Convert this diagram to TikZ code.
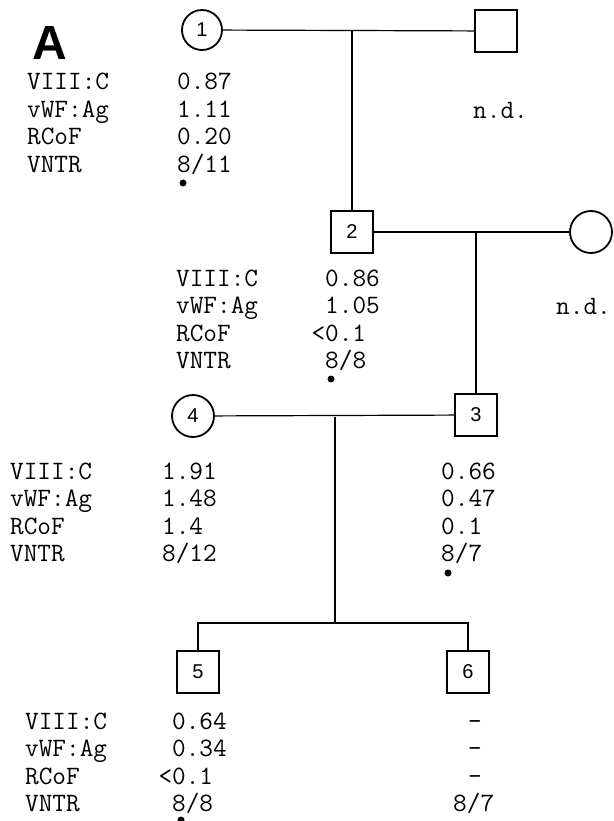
\documentclass[tikz,border=0pt]{standalone}
\usepackage{fontspec}
\setsansfont{Liberation Sans}
\usetikzlibrary{calc}
\tikzset{
  female/.style={draw,circle,line width=1.8pt,minimum size=40pt,inner sep=0pt,font=\sffamily\fontsize{20}{20}\selectfont},
  male/.style={draw,rectangle,line width=1.8pt,minimum size=42pt,inner sep=0pt,font=\sffamily\fontsize{20}{20}\selectfont},
  datatxt/.style={anchor=base west,inner sep=0pt,font=\ttfamily\fontsize{26.5}{26.5}\selectfont},
  link/.style={line width=1.2pt}
}
% one column of four lines, first baseline at (#2,#3)
\newcommand{\datacol}[4]{\foreach \t [count=\i from 0] in {#4} \node[datatxt] (#1\i) at (#2,#3+27.5*\i) {\t};}
\newcommand{\vdot}[2]{\fill (#2) circle (3.5pt) coordinate (#1);}

\begin{document}
\begin{tikzpicture}[x=1pt,y=-1pt]
\useasboundingbox (0,0) rectangle (613,821);
\node[font=\sffamily\bfseries\fontsize{48}{48}\selectfont,inner sep=0pt] (panel) at (50,43) {A};

% pedigree
\node[female] (p1) at (202,30) {1};
\node[male] (pa) at (496,31) {};
\node[male] (p2) at (352,232) {2};
\node[female,minimum size=42pt] (pb) at (591,232) {};
\node[female,minimum size=42pt] (p4) at (193,416) {4};
\node[male] (p3) at (476,415) {3};
\node[male] (p5) at (198,672) {5};
\node[male] (p6) at (468,672) {6};

\coordinate (m1) at (p2 |- p1);
\coordinate (m2) at (p3 |- p2);
\coordinate (m3) at (335,417);
\coordinate (sib) at (335,623);

\draw[link] (p1) -- (pa);
\draw[link] (m1) -- (p2);
\draw[link] (p2) -- (pb);
\draw[link] (m2) -- (p3);
\draw[link] (p4) -- (p3);
\draw[link] (m3) -- (sib);
\draw[link] (p5) |- (sib) -| (p6);

% individual 1
\datacol{n1-}{27}{90}{VIII:C,vWF:Ag,RCoF,VNTR}
\datacol{v1-}{177}{90}{0.87,1.11,0.20,8/11}
\vdot{d1}{183,183}
\node[datatxt] (nd1) at (473,119) {n.d.};

% individual 2
\datacol{n2-}{176}{286}{VIII:C,vWF:Ag,RCoF,VNTR}
\datacol{v2-}{325}{286}{0.86,1.05,\llap{<}0.1,8/8}
\vdot{d2}{331,379}
\node[datatxt] (nd2) at (556,314) {n.d.};

% individuals 4 and 3
\datacol{n3-}{10}{479}{VIII:C,vWF:Ag,RCoF,VNTR}
\datacol{v4-}{162}{479}{1.91,1.48,1.4,8/12}
\datacol{v3-}{441}{479}{0.66,0.47,0.1,8/7}
\vdot{d3}{448,573}

% individuals 5 and 6
\datacol{n4-}{25}{729}{VIII:C,vWF:Ag,RCoF,VNTR}
\datacol{v5-}{172}{729}{0.64,0.34,\llap{<}0.1,8/8}
\datacol{v6-}{468}{729}{-,-,-}
\node[datatxt] (v6-3) at (453,811.5) {8/7};
\vdot{d5}{181,820}
\end{tikzpicture}
\end{document}
